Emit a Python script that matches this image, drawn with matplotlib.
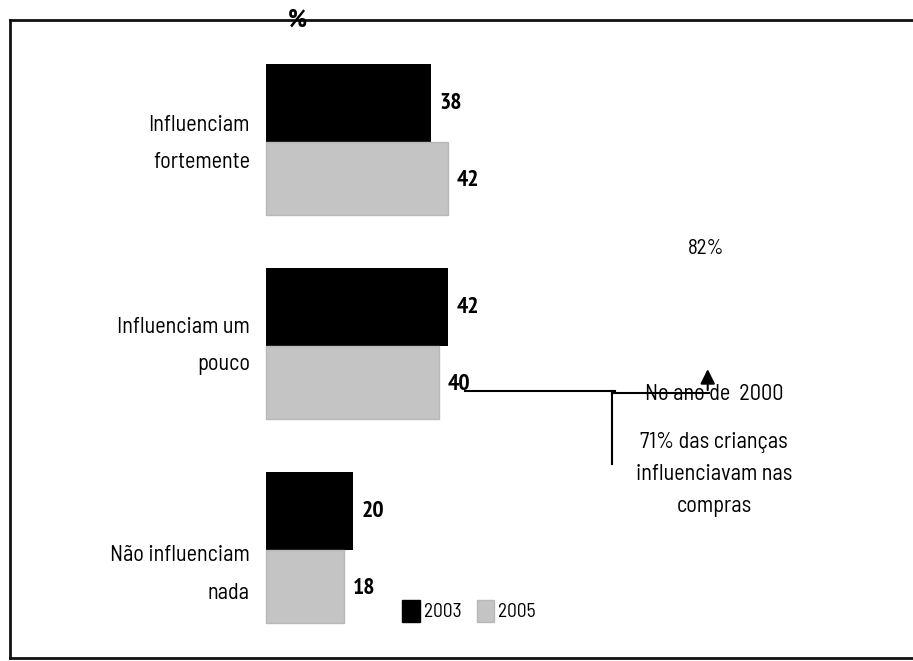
import matplotlib
matplotlib.use('Agg')
import matplotlib.pyplot as plt
from matplotlib.patches import Patch

# dados
categorias = ['Influenciam\nfortemente', 'Influenciam um\npouco', 'Não influenciam\nnada']
valores_2003 = [38, 42, 20]
valores_2005 = [42, 40, 18]
anos = ['2003', '2005']

cor_2003 = '#000000'
cor_2005 = '#c4c4c4'
fonte = ['Saira Semi Condensed', 'Barlow Semi Condensed', 'Saira Condensed', 'DejaVu Sans']
fonte_num = ['PT Sans Narrow', 'Roboto Condensed', 'Archivo Narrow', 'DejaVu Sans']

fig = plt.figure(figsize=(9.13, 6.61), dpi=100)
ax = fig.add_axes([10 / 913, 3 / 661, 903 / 913, 638 / 661])

altura = 0.38
for i, (v3, v5) in enumerate(zip(valores_2003, valores_2005)):
    ax.barh(i - altura / 2, v3, height=altura, color=cor_2003, zorder=2)
    ax.barh(i + altura / 2 - 0.01, v5, height=altura - 0.02, color=cor_2005,
            edgecolor='#b8b8b8', linewidth=1, zorder=2)
    ax.text(v3 + 2, i - altura / 2, str(v3), va='center', ha='left',
            fontsize=17, fontweight='bold', family=fonte_num)
    ax.text(v5 + 2, i + altura / 2, str(v5), va='center', ha='left',
            fontsize=17, fontweight='bold', family=fonte_num)

# rótulos das categorias
deslocamento = [0.01, 0.0, 0.12]
for i, cat in enumerate(categorias):
    ax.text(-3.7, i + deslocamento[i], cat, ha='right', va='center',
            fontsize=16, family=fonte, linespacing=2.05)

ax.set_xlim(-59.1, 149.4)
ax.set_ylim(2.53, -0.598)
ax.set_xticks([])
ax.set_yticks([])
ax.spines['right'].set_visible(False)
for s in ['left', 'top', 'bottom']:
    ax.spines[s].set_linewidth(2)
    ax.spines[s].set_color('#111111')

# título "%" sobre a linha superior
ax.text(7.2, -0.598, '%', ha='center', va='center', fontsize=19,
        fontweight='bold', family=fonte_num, zorder=5)

# anotações
ax.text(101.6, 0.52, '82%', ha='center', va='center', fontsize=15, family=fonte)
ax.plot([46, 80.5], [1.22, 1.22], color='black', lw=1.5)
ax.plot([79.8, 79.8], [1.22, 1.58], color='black', lw=1.5)
ax.plot([79.8, 102.3], [1.23, 1.23], color='black', lw=1.5)
ax.annotate('', xy=(102.0, 1.10), xytext=(102.0, 1.23),
            arrowprops=dict(arrowstyle='-|>', color='black', lw=1.5, mutation_scale=22))
ax.text(103.5, 1.24, 'No ano de  2000', ha='center', va='center', fontsize=16, family=fonte)
ax.text(103.5, 1.63, '71% das crianças\ninfluenciavam nas\ncompras', ha='center',
        va='center', fontsize=16, family=fonte, linespacing=1.68)

# legenda
handles = [Patch(facecolor=cor_2003, edgecolor=cor_2003),
           Patch(facecolor=cor_2005, edgecolor='#b8b8b8')]
fig.legend(handles, anos, loc='center', bbox_to_anchor=(469 / 913, 1 - 611 / 661),
           ncol=2, frameon=False, handlelength=0.9, handleheight=1.4,
           handletextpad=0.2, columnspacing=0.8,
           prop={'family': fonte, 'size': 14})

fig.savefig('out.png', dpi=100)
